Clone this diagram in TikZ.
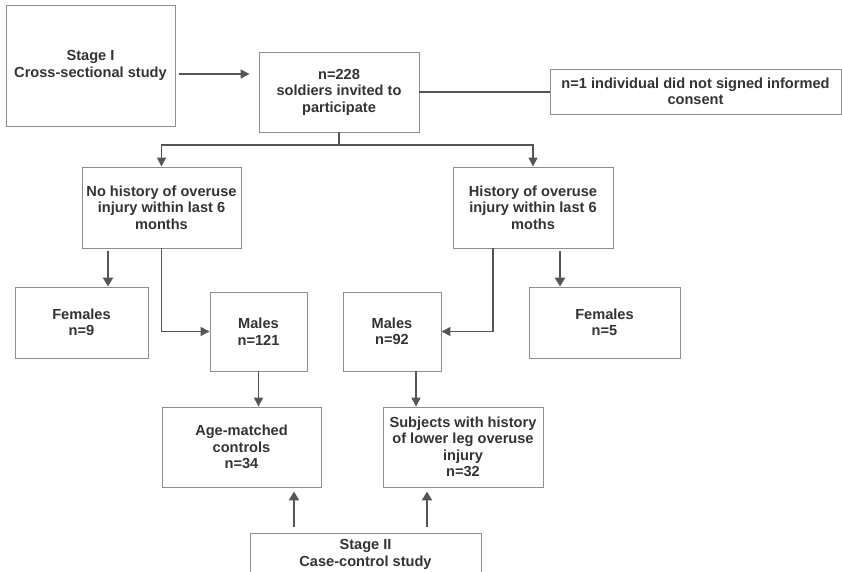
\documentclass[tikz,border=0pt]{standalone}
\usepackage{fontspec}
\setmainfont{Liberation Sans}
\usetikzlibrary{arrows.meta}
\definecolor{boxc}{HTML}{8E8E8E}
\definecolor{linec}{HTML}{555555}
\definecolor{txtc}{HTML}{333333}
\begin{document}
\begin{tikzpicture}[x=1pt,y=-1pt,
  box/.style={draw=boxc, line width=0.9pt, align=center, inner sep=2pt,
    text=txtc, font=\fontsize{14.6}{16.5}\selectfont\bfseries},
  arr/.style={draw=linec, line width=1.3pt, -{Triangle[length=9pt,width=9pt]}},
  thk/.style={draw=linec, line width=2.6pt, -{Triangle[length=9pt,width=10pt]}},
  plain/.style={draw=linec, line width=1.3pt}]
\useasboundingbox (0,0) rectangle (842,572);
% boxes
\node[box, minimum width=169pt, minimum height=121pt] (stage1) at (90.5,65.5) {Stage I\\Cross-sectional study};
\node[box, minimum width=160pt, minimum height=80pt] (n228) at (339,92) {n=228\\soldiers invited to\\participate};
\node[box, minimum width=291pt, minimum height=45pt] (consent) at (695.5,91.5) {n=1 individual did not signed informed\\consent};
\node[box, minimum width=159pt, minimum height=81pt] (nohist) at (161.5,207.5) {No history of overuse\\injury within last 6\\months};
\node[box, minimum width=160pt, minimum height=81pt] (hist) at (533,207.5) {History of overuse\\injury within last 6\\moths};
\node[box, minimum width=133pt, minimum height=71pt] (femL) at (81.5,322.5) {Females\\n=9};
\node[box, minimum width=97pt, minimum height=79pt] (m121) at (258.5,331.5) {Males\\n=121};
\node[box, minimum width=98pt, minimum height=79pt] (m92) at (392,331.5) {Males\\n=92};
\node[box, minimum width=151pt, minimum height=71pt] (femR) at (604.5,322.5) {Females\\n=5};
\node[box, minimum width=159pt, minimum height=80pt] (age) at (241.5,447) {Age-matched\\controls\\n=34};
\node[box, minimum width=160pt, minimum height=80pt] (subj) at (463,447) {Subjects with history\\of lower leg overuse\\injury\\n=32};
\node[box, anchor=north, minimum width=231pt, inner ysep=6pt] (stage2) at (365.5,533) {Stage II\\Case-control study\rule[-30pt]{0pt}{0pt}};
% connectors
\draw[arr, shorten <=4pt, shorten >=9pt] (stage1.east |- 0,74) -- (n228.west |- 0,74);
\draw[plain] (n228.east) -- (consent.west |- n228.east);
\coordinate (split) at (339,145);
\draw[plain] (n228.south) -- (split);
\draw[arr] (split) -| (nohist.north);
\draw[arr] (split) -| (hist.north);
\draw[thk, shorten <=3pt] (nohist.south -| 108,0) -- (femL.north -| 108,0);
\draw[arr] (nohist.south) |- (m121.west);
\draw[arr] (hist.south -| 493,0) |- (m92.east);
\draw[thk, shorten <=3pt] (hist.south -| 560,0) -- (femR.north -| 560,0);
\draw[arr] (m121.south) -- (m121.south |- age.north);
\draw[arr] (m92.south -| 416,0) -- (subj.north -| 416,0);
\draw[thk, shorten <=6pt, shorten >=4pt] (stage2.north -| 294,0) -- (age.south -| 294,0);
\draw[thk, shorten <=6pt, shorten >=4pt] (stage2.north -| 427,0) -- (subj.south -| 427,0);
\end{tikzpicture}
\end{document}
